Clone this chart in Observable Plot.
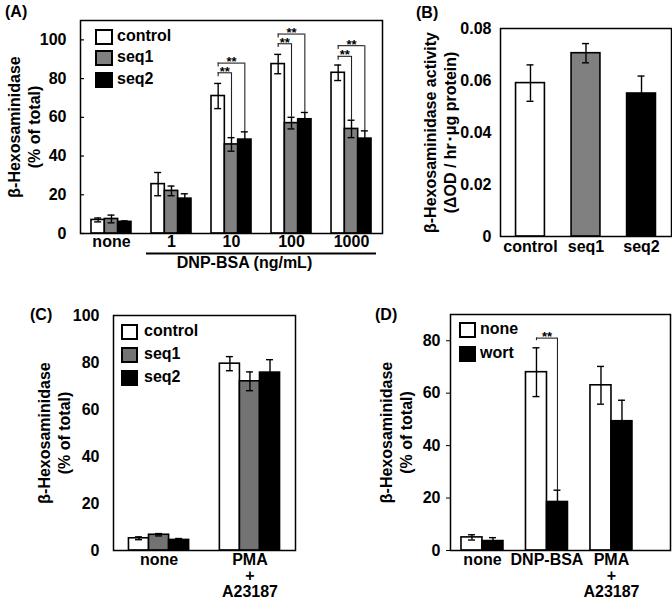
<!DOCTYPE html>
<html><head><meta charset="utf-8">
<script src="https://cdn.jsdelivr.net/npm/d3@7"></script>
<script src="https://cdn.jsdelivr.net/npm/@observablehq/plot@0.6"></script>
<style>
body{margin:0;background:#fff;}
#chart{position:relative;width:672px;height:605px;background:#fff;font-family:"Liberation Sans",Arial,sans-serif;overflow:hidden;}
#chart svg{position:absolute;overflow:visible;}
.lbl{position:absolute;font-weight:bold;font-size:16px;line-height:16px;white-space:nowrap;color:#000;}
.sw{position:absolute;box-sizing:border-box;border:2px solid #000;}
</style></head><body><div id="chart"></div>
<script>
// ---------- Data ----------
// Panel A
const groupsA = ["none", "1", "10", "100", "1000"];
const seriesA = ["control", "seq1", "seq2"];
const controlA = [7, 25.5, 71, 87.5, 83];
const controlErrA = [1, 6, 6.5, 5, 4];
const seq1A = [7.5, 22, 46, 57, 54];
const seq1ErrA = [2, 2.5, 3.5, 3, 4.5];
const seq2A = [6, 18, 48.5, 59, 49];
const seq2ErrA = [0.5, 2.5, 4, 3.5, 4];
const yTicksA = [0, 20, 40, 60, 80, 100];
const sigGroupA = ["10", "10", "100", "100", "1000", "1000"];
const sigFromA = ["control", "control", "control", "control", "control", "control"];
const sigToA = ["seq1", "seq2", "seq1", "seq2", "seq1", "seq2"];
const sigYA = [83, 88, 98, 103, 91.5, 97];
const xTitleA = "DNP-BSA (ng/mL)";
const yLabelA = "β-Hexosaminidase\n(% of total)";

// Panel B
const seriesB = ["control", "seq1", "seq2"];
const activityB = [0.059, 0.0705, 0.055];
const activityErrB = [0.007, 0.0037, 0.0067];
const yTicksB = [0, 0.02, 0.04, 0.06, 0.08];
const yTickLabelsB = ["0", "0.02", "0.04", "0.06", "0.08"];
const yLabelB = "β-Hexosaminidase activity\n(ΔOD / hr･μg protein)";

// Panel C
const groupsC = ["none", "PMA"];
const groupLabelsC = ["none", "PMA\n+\nA23187"];
const seriesC = ["control", "seq1", "seq2"];
const controlC = [5.2, 79.5];
const controlErrC = [0.6, 3];
const seq1C = [6.7, 72];
const seq1ErrC = [0.5, 4];
const seq2C = [4.5, 75.7];
const seq2ErrC = [0.6, 5.5];
const yTicksC = [0, 20, 40, 60, 80, 100];

// Panel D
const groupsD = ["none", "DNP-BSA", "PMA"];
const groupLabelsD = ["none", "DNP-BSA", "PMA\n+\nA23187"];
const seriesD = ["none", "wort"];
const noneD = [5, 68, 63];
const noneErrD = [1, 9.3, 7.2];
const wortD = [3.6, 18.5, 49.3];
const wortErrD = [1.3, 4.5, 8];
const yTicksD = [0, 20, 40, 60, 80];
const sigGroupD = ["DNP-BSA"];
const sigFromD = ["none"];
const sigToD = ["wort"];
const sigYD = [81];

// ---------- Drawing ----------
const FONT = '"Liberation Sans", Arial, sans-serif';
const chart = document.getElementById("chart");

function panel(o) {
  const n = o.groups.length, m = o.series.length;
  const inner = o.width - o.ml - o.mr;
  const step = inner / (n - o.pi + 2 * o.po);
  const bw = step * (1 - o.pi);
  const off = k => (k - (m - 1) / 2) * bw / m;
  const rows = [];
  o.series.forEach((s, k) => o.groups.forEach((g, j) =>
    rows.push({group: g, series: s, k, value: o.values[k][j], err: o.errors[k][j]})));
  const marks = [];
  // y axis: ticks (outward) + labels as text marks
  if (o.tickSize > 0) marks.push(Plot.axisY({ticks: o.yTicks, tickSize: o.tickSize, tickFormat: () => "", label: null}));
  marks.push(Plot.text(o.yTicks, {y: d => d, text: o.yFormat || (d => String(d)), frameAnchor: "left", textAnchor: "end",
    dx: -(o.tickSize + o.tickPadding), fontSize: 16, fontWeight: "bold", fill: "#000"}));
  o.series.forEach((s, k) => {
    const d = rows.filter(r => r.k === k);
    marks.push(Plot.barY(d, {x: "group", y: "value", fill: o.fills[k], stroke: "#000", strokeWidth: 1.6,
      insetLeft: k * bw / m, insetRight: (m - 1 - k) * bw / m}));
  });
  o.series.forEach((s, k) => {
    const d = rows.filter(r => r.k === k);
    const cap = {x: "group", dx: off(k), insetLeft: bw / 2 - 3.5, insetRight: bw / 2 - 3.5, stroke: "#000", strokeWidth: 1.4};
    marks.push(Plot.ruleX(d, {x: "group", y1: r => r.value - r.err, y2: r => r.value + r.err, dx: off(k), stroke: "#000", strokeWidth: 1.4}));
    marks.push(Plot.tickY(d, {...cap, y: r => r.value + r.err}));
    marks.push(Plot.tickY(d, {...cap, y: r => r.value - r.err}));
  });
  (o.sig || []).forEach(b => {
    const kf = o.series.indexOf(b.from), kt = o.series.indexOf(b.to);
    const t = rows.find(r => r.group === b.group && r.k === kt);
    const top = t.value + t.err;
    const st = {stroke: "#222", strokeWidth: 1.1};
    marks.push(Plot.tickY([b], {x: "group", y: "y", insetLeft: bw / 2 + off(kf), insetRight: bw / 2 - off(kt), ...st}));
    marks.push(Plot.ruleX([b], {x: "group", y1: "y", y2: r => r.y - o.sigDrop, dx: off(kf), ...st}));
    marks.push(Plot.ruleX([b], {x: "group", y1: "y", y2: () => top, dx: off(kt), ...st}));
    marks.push(Plot.text([b], {x: "group", y: "y", text: () => "**", dx: (off(kf) + off(kt)) / 2, dy: -1,
      lineAnchor: "middle", fontSize: 13, fontWeight: "bold", fill: "#000"}));
  });
  marks.push(Plot.frame({stroke: "#000", strokeWidth: 1.5}));
  if (o.inwardTicks) marks.push(Plot.ruleY(o.yTicks, {insetRight: inner - 4, stroke: "#000", strokeWidth: 1.2}));
  // x tick labels as text marks
  marks.push(Plot.text(o.groups, {x: d => d, text: o.xFormat || (d => d), frameAnchor: "bottom", lineAnchor: "top",
    dy: o.xPad, fontSize: 16, fontWeight: "bold", lineHeight: 1, fill: "#000"}));
  marks.push(Plot.text([o.yLabel], {text: d => d, frameAnchor: "left", textAnchor: "middle", dx: o.yLabelDx, rotate: -90,
    fontSize: 16, fontWeight: "bold", lineHeight: 1.25, fill: "#000"}));
  if (o.extra) marks.push(...o.extra);
  const svg = Plot.plot({
    width: o.width, height: o.height,
    marginLeft: o.ml, marginRight: o.mr, marginTop: o.mt, marginBottom: o.mb,
    x: {type: "band", domain: o.groups, paddingInner: o.pi, paddingOuter: o.po, align: o.align ?? 0.5, round: false, axis: null},
    y: {domain: o.yDomain, axis: null},
    color: {type: "identity"},
    style: {fontFamily: FONT, fontSize: "16px", fontWeight: "bold", background: "transparent", color: "#000"},
    marks
  });
  svg.style.left = o.left + "px";
  svg.style.top = o.top + "px";
  chart.appendChild(svg);
}

function legend(items, fills, x, ys, w, h, tx) {
  items.forEach((t, i) => {
    const sw = document.createElement("div");
    sw.className = "sw";
    sw.style.cssText = `left:${x}px;top:${ys[i] - h / 2}px;width:${w}px;height:${h}px;background:${fills[i]}`;
    chart.appendChild(sw);
    const tt = document.createElement("div");
    tt.className = "lbl";
    tt.textContent = t;
    tt.style.left = tx + "px";
    tt.style.top = (ys[i] - 9) + "px";
    chart.appendChild(tt);
  });
}

function label(t, x, y) {
  const d = document.createElement("div");
  d.className = "lbl";
  d.textContent = t;
  d.style.left = x + "px";
  d.style.top = y + "px";
  chart.appendChild(d);
}

const fillsAC = ["#ffffff", "#808080", "#000000"];

// Panel A
panel({
  left: 0, top: 0, width: 392, height: 290, ml: 80, mr: 10, mt: 20, mb: 57,
  groups: groupsA, series: seriesA,
  values: [controlA, seq1A, seq2A], errors: [controlErrA, seq1ErrA, seq2ErrA],
  fills: fillsAC, pi: 1 / 3, po: 0.183,
  yDomain: [0, 110], yTicks: yTicksA, tickSize: 0, tickPadding: 14, inwardTicks: true,
  xPad: 2, yLabel: yLabelA, yLabelDx: -57,
  sig: sigGroupA.map((g, i) => ({group: g, from: sigFromA[i], to: sigToA[i], y: sigYA[i]})), sigDrop: 2,
  extra: [
    Plot.ruleY([0], {x1: () => groupsA[1], x2: () => groupsA[4], dy: 20, insetLeft: -5, insetRight: -5, stroke: "#000", strokeWidth: 2}),
    Plot.text([xTitleA], {text: d => d, x: () => groupsA[2], frameAnchor: "bottom", dx: 13, dy: 34, fontSize: 16, fontWeight: "bold", fill: "#000"})
  ]
});

// Panel B
panel({
  left: 392, top: 0, width: 280, height: 290, ml: 108, mr: 1, mt: 28, mb: 54,
  groups: seriesB, series: ["activity"],
  values: [activityB], errors: [activityErrB],
  fills: [r => fillsAC[seriesB.indexOf(r.group)]], pi: 0.48, po: 0.28,
  yDomain: [0, 0.08], yTicks: yTicksB, yFormat: d => yTickLabelsB[yTicksB.indexOf(d)],
  tickSize: 0, tickPadding: 9, xPad: 4, yLabel: yLabelB, yLabelDx: -61
});

// Panel C
panel({
  left: 0, top: 300, width: 336, height: 305, ml: 113, mr: 41, mt: 15, mb: 55,
  groups: groupsC, series: seriesC,
  values: [controlC, seq1C, seq2C], errors: [controlErrC, seq1ErrC, seq2ErrC],
  fills: ["#ffffff", "#737373", "#000000"], pi: 0.338, po: 0.17,
  yDomain: [0, 100], yTicks: yTicksC, tickSize: 0, tickPadding: 14,
  xPad: 3, xFormat: d => groupLabelsC[groupsC.indexOf(d)], yLabel: yLabelA, yLabelDx: -60
});

// Panel D
panel({
  left: 336, top: 300, width: 336, height: 305, ml: 114, mr: 2, mt: 14, mb: 55,
  groups: groupsD, series: seriesD,
  values: [noneD, wortD], errors: [noneErrD, wortErrD],
  fills: ["#ffffff", "#000000"], pi: 0.349, po: 0.38, align: 0.224,
  yDomain: [0, 90], yTicks: yTicksD, tickSize: 4, tickPadding: 6,
  xPad: 3, xFormat: d => groupLabelsD[groupsD.indexOf(d)], yLabel: yLabelA, yLabelDx: -55,
  sig: sigGroupD.map((g, i) => ({group: g, from: sigFromD[i], to: sigToD[i], y: sigYD[i]})), sigDrop: 1
});

// Legends
legend(seriesA, fillsAC, 95, [36.5, 58, 80], 18, 16, 117);
legend(seriesC, ["#ffffff", "#737373", "#000000"], 121, [331.5, 354.5, 377.5], 17, 16, 144);
legend(seriesD, ["#ffffff", "#000000"], 459, [330, 353.5], 17, 16, 480);

// Panel labels
label("(A)", 5, 4);
label("(B)", 416, 5);
label("(C)", 30, 307);
label("(D)", 375, 307);
</script></body></html>
